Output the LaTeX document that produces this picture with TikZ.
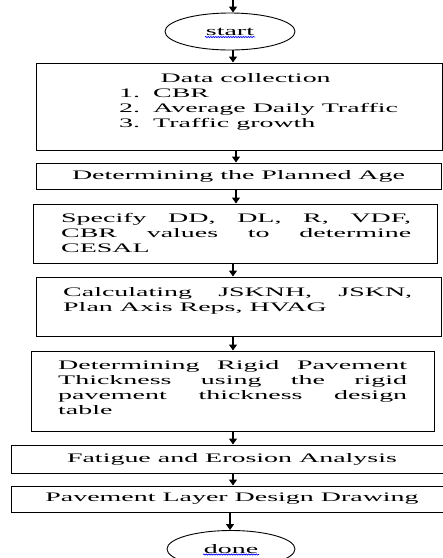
\documentclass[tikz,border=0pt]{standalone}
\usepackage{fontspec}
\setmainfont{Liberation Serif}[FakeStretch=2.15]
\usetikzlibrary{shapes.geometric,arrows.meta,decorations.pathmorphing,calc}
\begin{document}
\begin{tikzpicture}[x=1pt,y=-1pt,
  font=\fontsize{13pt}{15pt}\selectfont,
  boxst/.style={draw=black, line width=1pt, rectangle, inner sep=0pt},
  term/.style={draw=black, line width=0.9pt, ellipse, inner sep=0pt, minimum height=37pt},
  arr/.style={line width=1.1pt, -{Triangle[length=6pt,width=8pt]}},
  txt/.style={inner sep=0pt, anchor=base west},
  wavy/.style={blue, line width=0.6pt, decorate, decoration={snake, segment length=2.5pt, amplitude=0.6pt}}]
\useasboundingbox (0,0) rectangle (443,558);
% terminals
\node[term, minimum width=130pt] (st) at (230,31.5) {start};
\node[term, minimum width=128pt] (dn) at (231,549) {done};
\draw[wavy] ($(st.center)+(-25,5.5)$) -- ($(st.center)+(25,5.5)$);
\draw[wavy] ($(dn.center)+(-28,5.5)$) -- ($(dn.center)+(28,5.5)$);
% boxes
\node[boxst, minimum width=406pt, minimum height=87pt] (b1) at (239,106.5) {};
\node[boxst, minimum width=405pt, minimum height=26pt] (b2) at (238.5,176) {Determining the Planned Age};
\node[boxst, minimum width=404pt, minimum height=59pt] (b3) at (235,233.5) {};
\node[boxst, minimum width=405pt, minimum height=59pt] (b4) at (238.5,306.5) {};
\node[boxst, minimum width=403pt, minimum height=80pt] (b5) at (232.5,391) {};
\node[boxst, minimum width=442pt, minimum height=28pt] (b6) at (232,459) {Fatigue and Erosion Analysis};
\node[boxst, minimum width=442pt, minimum height=26pt] (b7) at (232,499) {Pavement Layer Design Drawing};
% box texts
\node[txt] (t1) at (119,82) {\parbox[t]{320pt}{\makebox[253pt]{Data collection}\\
  \makebox[34pt][l]{1.}CBR\\
  \makebox[34pt][l]{2.}Average Daily Traffic\\
  \makebox[34pt][l]{3.}Traffic growth}};
\node[txt] (t3) at (61,222) {\parbox[t]{350pt}{Specify DD, DL, R, VDF,\linebreak
  CBR values to determine\linebreak CESAL}};
\node[txt] (t4) at (63,296) {\parbox[t]{349pt}{Calculating JSKNH, JSKN,\linebreak
  Plan Axis Reps, HVAG}};
\node[txt] (t5) at (58,369) {\parbox[t]{349pt}{Determining Rigid Pavement\linebreak
  Thickness using the rigid\linebreak pavement thickness design\linebreak table}};
% connectors
\coordinate (ax) at (233,0);
\coordinate (ay) at (236,0);
\coordinate (az) at (230,0);
\coordinate (topin) at (233,-15);
\draw[arr] (topin) -- (st.north -| ax);
\draw[arr] (st.south -| ax) -- (b1.north -| ax);
\draw[arr] (b1.south -| ay) -- (b2.north -| ay);
\draw[arr] (b2.south -| ay) -- (b3.north -| ay);
\draw[arr] (b3.south -| ax) -- (b4.north -| ax);
\draw[arr] (b4.south -| ax) -- (b5.north -| ax);
\draw[arr] (b5.south -| ax) -- (b6.north -| ax);
\draw[arr] (b6.south -| ax) -- (b7.north -| ax);
\draw[arr] (b7.south -| az) -- (dn.north -| az);
\end{tikzpicture}
\end{document}
